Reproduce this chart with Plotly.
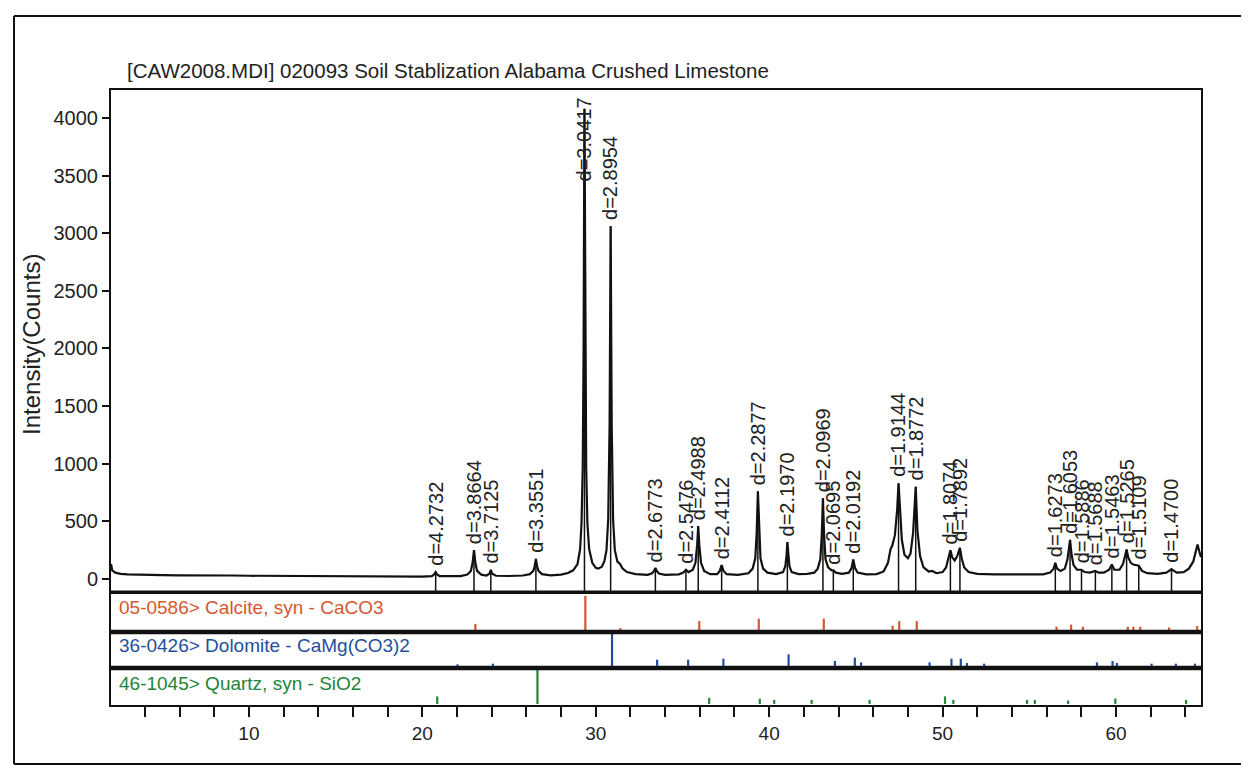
import plotly.graph_objects as go

# ---------------- data ----------------
scan_2theta = [2.05, 2.12, 2.3, 2.6, 3.0, 4.0, 5.0, 6.0, 7.0, 8.0, 9.0, 10.0, 11.0, 12.0, 13.0, 14.0,
               15.0, 16.0, 17.0, 18.0, 19.0, 20.0, 20.55, 20.69, 20.77, 20.85, 21.0, 21.5, 22.2, 22.6,
               22.8, 22.9, 22.98, 23.06, 23.16, 23.4, 23.7, 23.87, 23.95, 24.03, 24.25, 25.0, 25.8, 26.2,
               26.4, 26.48, 26.55, 26.62, 26.7, 26.9, 27.4, 28.0, 28.4, 28.7, 28.95, 29.1, 29.18, 29.25,
               29.3, 29.35, 29.4, 29.45, 29.52, 29.62, 29.8, 30.0, 30.15, 30.35, 30.5, 30.62, 30.72, 30.8,
               30.86, 30.92, 31.0, 31.1, 31.25, 31.4, 31.55, 31.8, 32.3, 33.0, 33.25, 33.36, 33.44, 33.52,
               33.64, 34.0, 34.8, 35.05, 35.2, 35.35, 35.6, 35.75, 35.85, 35.91, 35.97, 36.07, 36.25, 36.6,
               37.0, 37.15, 37.26, 37.37, 37.55, 38.2, 38.8, 39.05, 39.2, 39.28, 39.35, 39.42, 39.5, 39.65,
               39.9, 40.4, 40.8, 40.93, 41.0, 41.05, 41.1, 41.17, 41.3, 41.7, 42.2, 42.45, 42.6, 42.8,
               42.95, 43.03, 43.1, 43.17, 43.25, 43.4, 43.6, 43.7, 43.85, 44.2, 44.6, 44.75, 44.85, 44.95,
               45.1, 45.6, 46.2, 46.6, 46.85, 47.0, 47.1, 47.25, 47.38, 47.46, 47.54, 47.65, 47.8, 48.0,
               48.15, 48.3, 48.45, 48.55, 48.7, 48.9, 49.2, 49.4, 49.65, 50.0, 50.2, 50.35, 50.45, 50.55,
               50.7, 50.85, 50.95, 51.0, 51.1, 51.25, 51.5, 52.0, 53.0, 54.0, 55.0, 55.8, 56.2, 56.4,
               56.5, 56.6, 56.8, 57.05, 57.2, 57.28, 57.35, 57.43, 57.55, 57.75, 58.0, 58.2, 58.5, 58.8,
               59.0, 59.3, 59.6, 59.76, 59.9, 60.2, 60.4, 60.52, 60.61, 60.7, 60.85, 61.0, 61.31, 61.5,
               61.8, 62.4, 62.9, 63.1, 63.2, 63.3, 63.5, 63.9, 64.2, 64.45, 64.6, 64.7, 64.8, 64.9]
scan_counts = [130, 75, 55, 45, 40, 35, 33, 32, 33, 31, 30, 28, 27, 27, 25, 24,
               24, 23, 22, 22, 21, 21, 24, 40, 60, 40, 24, 22, 25, 38,
               70, 140, 250, 140, 70, 38, 30, 45, 80, 45, 28, 26, 30, 42,
               70, 110, 175, 110, 70, 42, 32, 38, 52, 75, 130, 260, 480, 960,
               2000, 4080, 2000, 960, 480, 260, 140, 96, 90, 106, 155, 250, 520, 1350,
               3060, 1350, 520, 250, 150, 130, 90, 60, 42, 36, 50, 70, 95, 70,
               48, 36, 40, 55, 80, 60, 80, 140, 300, 460, 300, 140, 70, 42,
               42, 70, 120, 70, 42, 36, 50, 90, 180, 400, 760, 400, 180, 90,
               55, 42, 60, 110, 200, 320, 200, 110, 60, 42, 45, 55, 55, 90,
               170, 370, 700, 370, 170, 100, 75, 75, 55, 45, 55, 95, 170, 95,
               55, 40, 42, 65, 140, 260, 290, 380, 600, 830, 600, 340, 210, 180,
               220, 400, 800, 420, 200, 100, 65, 70, 50, 60, 100, 180, 250, 190,
               160, 200, 265, 270, 180, 100, 60, 45, 40, 38, 38, 40, 55, 90,
               140, 90, 70, 90, 170, 260, 340, 220, 120, 80, 80, 60, 55, 70,
               55, 55, 80, 125, 80, 80, 130, 200, 255, 190, 140, 125, 115, 70,
               50, 45, 55, 75, 85, 75, 55, 60, 90, 150, 230, 300, 240, 190]

peak_d = ["4.2732", "3.8664", "3.7125", "3.3551", "3.0417", "2.8954", "2.6773", "2.5476", "2.4988",
          "2.4112", "2.2877", "2.1970", "2.0969", "2.0695", "2.0192", "1.9144", "1.8772", "1.8074",
          "1.7892", "1.6273", "1.6053", "1.5886", "1.5688", "1.5463", "1.5265", "1.5109", "1.4700"]
peak_2theta = [20.77, 22.98, 23.95, 26.55, 29.35, 30.86, 33.44, 35.20, 35.91, 37.26, 39.35, 41.05,
               43.10, 43.70, 44.85, 47.46, 48.45, 50.45, 51.00, 56.50, 57.35, 58.01, 58.81, 59.76,
               60.61, 61.31, 63.20]
peak_counts = [60, 250, 80, 175, 4080, 3060, 95, 80, 460, 120, 760, 320, 700, 75, 170, 830, 800,
               250, 270, 140, 340, 80, 70, 125, 255, 115, 85]

calcite_2theta = [23.06, 29.40, 31.42, 35.97, 39.40, 43.15, 47.12, 47.50, 48.51, 56.57, 57.41, 58.09,
                  60.68, 61.00, 61.40, 63.06, 64.68]
calcite_rel = [20, 100, 8, 28, 35, 35, 15, 28, 28, 12, 18, 12, 12, 12, 12, 10, 14]

dolomite_2theta = [22.03, 24.07, 30.94, 33.54, 35.33, 37.36, 41.12, 43.79, 44.94, 45.30, 49.25, 50.51,
                   51.05, 51.40, 52.40, 58.90, 59.80, 60.05, 62.05, 63.45, 64.55]
dolomite_rel = [8, 10, 100, 22, 22, 25, 38, 18, 28, 14, 14, 25, 25, 12, 10, 14, 18, 12, 10, 10, 10]

quartz_2theta = [20.86, 26.64, 36.54, 39.46, 40.29, 42.45, 45.79, 50.14, 50.62, 54.87, 55.32, 57.24,
                 59.96, 64.04]
quartz_rel = [22, 100, 18, 15, 12, 12, 12, 22, 12, 12, 12, 10, 16, 12]

phase_labels = ["05-0586> Calcite, syn - CaCO3", "36-0426> Dolomite - CaMg(CO3)2",
                "46-1045> Quartz, syn - SiO2"]
y_tick_values = [0, 500, 1000, 1500, 2000, 2500, 3000, 3500, 4000]
x_tick_values = list(range(4, 65, 2))
x_tick_labels = [str(v) if v % 10 == 0 else "" for v in x_tick_values]

title_text = "[CAW2008.MDI] 020093 Soil Stablization Alabama Crushed Limestone"
y_title = "Intensity(Counts)"

# ---------------- layout geometry (screen coords; page body has an 8px margin) ----------------
OFF = 8
W, H = 1249 - OFF, 770 - OFF
ML, MR = 111 - OFF, 48
MT = 90 - OFF
MB = H - (705 - OFF)
PW, PH = W - ML - MR, H - MT - MB
XR = [2.05, 64.9]
YR = [-113, 4243]


def pyp(p):
    return (H - MB - (p - OFF)) / PH


def pxp(p):
    return ((p - OFF) - ML) / PW


FONT = "Liberation Sans, Arial, sans-serif"
TXT = "#222222"
C_CAL, C_DOL, C_QTZ = "#d4572e", "#1f4f9c", "#23843a"

main_dom = [pyp(592), 1.0]
s1 = [pyp(632), pyp(594)]
s2 = [pyp(668), pyp(632)]
s3 = [0.0, pyp(668)]

fig = go.Figure()

# scan trace
fig.add_trace(go.Scatter(x=scan_2theta, y=scan_counts, mode="lines",
                         line=dict(color="#111111", width=2.2), xaxis="x", yaxis="y",
                         hoverinfo="skip"))

# drop lines of labelled peaks
dx, dy = [], []
for p, h in zip(peak_2theta, peak_counts):
    dx += [p, p, None]
    dy += [YR[0], h, None]
fig.add_trace(go.Scatter(x=dx, y=dy, mode="lines", line=dict(color="#111111", width=1.5),
                         xaxis="x", yaxis="y", hoverinfo="skip"))


def sticks(xs, hs):
    sx, sy = [], []
    for p, h in zip(xs, hs):
        sx += [p, p, None]
        sy += [0, h, None]
    return sx, sy


for (xs, hs, col, ax) in [(calcite_2theta, calcite_rel, C_CAL, "2"),
                          (dolomite_2theta, dolomite_rel, C_DOL, "3"),
                          (quartz_2theta, quartz_rel, C_QTZ, "4")]:
    sx, sy = sticks(xs, hs)
    fig.add_trace(go.Scatter(x=sx, y=sy, mode="lines", line=dict(color=col, width=2.2),
                             xaxis="x" + ax, yaxis="y" + ax, hoverinfo="skip"))

axis_common = dict(showgrid=False, zeroline=False, showline=True, mirror=True,
                   linecolor="#111111", linewidth=2)

layout = dict(
    width=W, height=H,
    margin=dict(l=ML, r=MR, t=MT, b=MB),
    paper_bgcolor="white", plot_bgcolor="white",
    showlegend=False,
    font=dict(family=FONT, color=TXT, size=19),
    xaxis=dict(domain=[0, 1], anchor="y", range=XR, ticks="", showticklabels=False, **axis_common),
    yaxis=dict(domain=main_dom, anchor="x", range=YR, tickvals=y_tick_values,
               ticks="outside", ticklen=7, tickwidth=1.5, tickcolor="#111111",
               tickfont=dict(size=20, color=TXT, family=FONT), **axis_common),
    xaxis2=dict(domain=[0, 1], anchor="y2", range=XR, matches="x", ticks="", showticklabels=False,
                **axis_common),
    yaxis2=dict(domain=s1, anchor="x2", range=[-3, 105], ticks="", showticklabels=False, **axis_common),
    xaxis3=dict(domain=[0, 1], anchor="y3", range=XR, matches="x", ticks="", showticklabels=False,
                **axis_common),
    yaxis3=dict(domain=s2, anchor="x3", range=[-3, 105], ticks="", showticklabels=False, **axis_common),
    xaxis4=dict(domain=[0, 1], anchor="y4", range=XR, matches="x", tickvals=x_tick_values,
                ticktext=x_tick_labels, ticks="outside", ticklen=10, tickwidth=1.5,
                tickcolor="#111111", tickfont=dict(size=19, color=TXT, family=FONT), **axis_common),
    yaxis4=dict(domain=s3, anchor="x4", range=[-3, 105], ticks="", showticklabels=False, **axis_common),
)
fig.update_layout(**layout)

shapes = []
# thick separators / reference baselines
for yy, w in [(main_dom[0], 3), (s1[0], 4.5), (s2[0], 4.5)]:
    shapes.append(dict(type="line", xref="paper", yref="paper", x0=0, x1=1, y0=yy, y1=yy,
                       line=dict(color="#111111", width=w)))
# scanned page border
shapes.append(dict(type="line", xref="paper", yref="paper", x0=pxp(14), x1=pxp(14),
                   y0=pyp(16), y1=pyp(764), line=dict(color="#111111", width=2)))
shapes.append(dict(type="line", xref="paper", yref="paper", x0=pxp(14), x1=pxp(1249),
                   y0=pyp(16), y1=pyp(16), line=dict(color="#111111", width=2)))
shapes.append(dict(type="line", xref="paper", yref="paper", x0=pxp(14), x1=pxp(1249),
                   y0=pyp(764), y1=pyp(764), line=dict(color="#111111", width=2)))
fig.update_layout(shapes=shapes)

ann = []
ann.append(dict(text=title_text, xref="paper", yref="paper", x=pxp(125), y=pyp(70),
                xanchor="left", yanchor="middle", showarrow=False,
                font=dict(size=20.5, color=TXT, family=FONT)))
ann.append(dict(text=y_title, xref="paper", yref="paper", x=pxp(31), y=pyp(345),
                xanchor="center", yanchor="middle", textangle=-90, showarrow=False,
                font=dict(size=24, color=TXT, family=FONT)))
for lab, col, ycen in zip(phase_labels, [C_CAL, C_DOL, C_QTZ], [607, 645, 683]):
    ann.append(dict(text=lab, xref="paper", yref="paper", x=pxp(117), y=pyp(ycen),
                    xanchor="left", yanchor="middle", showarrow=False,
                    font=dict(size=19, color=col, family=FONT)))

label_len = 790  # approx. length of a rotated label in count units
for d, p, h in zip(peak_d, peak_2theta, peak_counts):
    if h + label_len > YR[1]:
        ann.append(dict(text="d=" + d, x=p, y=YR[1], xref="x", yref="y", textangle=-90,
                        xanchor="center", yanchor="top", yshift=-5, showarrow=False,
                        font=dict(size=20, color=TXT, family=FONT)))
    else:
        ann.append(dict(text="d=" + d, x=p, y=h, xref="x", yref="y", textangle=-90,
                        xanchor="center", yanchor="bottom", yshift=4, showarrow=False,
                        font=dict(size=20, color=TXT, family=FONT)))
fig.update_layout(annotations=ann)

fig.write_html("out.html")
